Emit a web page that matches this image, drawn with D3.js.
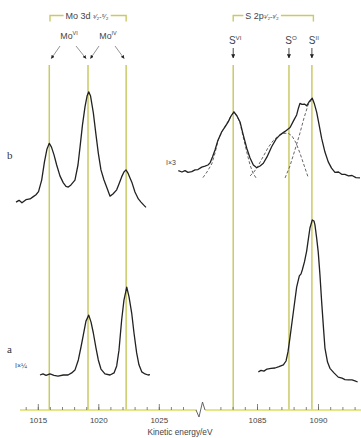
<!DOCTYPE html>
<html><head><meta charset="utf-8">
<script src="https://cdn.jsdelivr.net/npm/d3@7"></script>
<style>body{margin:0;background:#fff}svg{display:block}</style>
</head><body>
<svg id="chart" width="361" height="438"></svg>
<script>
// Mo 3d spectra, [kinetic energy (eV), intensity (arb. units)]
const moB = [[1013.20,59.4],[1013.45,59.9],[1013.69,59.2],[1014.02,60.1],[1014.36,60.3],[1014.60,60.9],[1014.85,61.5],[1015.06,62.4],[1015.32,65.7],[1015.55,70.9],[1015.76,74.6],[1015.95,76.2],[1016.13,75.1],[1016.34,72.9],[1016.56,70.0],[1016.83,66.9],[1017.11,64.9],[1017.33,63.9],[1017.52,63.7],[1017.74,64.3],[1018.07,65.7],[1018.32,70.0],[1018.49,75.1],[1018.69,81.4],[1018.90,86.6],[1019.07,89.7],[1019.21,90.9],[1019.36,89.7],[1019.59,84.9],[1019.81,78.6],[1020.00,73.4],[1020.22,68.6],[1020.47,65.7],[1020.72,63.4],[1020.97,61.1],[1021.21,61.7],[1021.52,62.9],[1021.71,64.6],[1021.93,66.6],[1022.12,68.0],[1022.29,68.6],[1022.45,67.7],[1022.62,66.3],[1022.79,64.9],[1023.03,62.3],[1023.31,60.3],[1023.53,59.4],[1023.74,58.6],[1023.94,57.9]];
const moA = [[1015.18,10.0],[1015.43,10.3],[1015.68,9.9],[1016.01,10.3],[1016.34,9.9],[1016.67,9.7],[1017.11,10.0],[1017.50,10.0],[1017.80,10.6],[1018.07,11.4],[1018.35,14.3],[1018.57,18.0],[1018.76,21.4],[1018.98,25.4],[1019.21,27.1],[1019.40,25.1],[1019.59,22.0],[1019.81,17.7],[1020.00,14.3],[1020.22,11.7],[1020.55,10.3],[1020.97,10.0],[1021.30,10.6],[1021.52,12.6],[1021.71,17.1],[1021.93,25.7],[1022.12,31.4],[1022.35,35.1],[1022.54,32.3],[1022.76,27.7],[1022.95,22.0],[1023.17,16.3],[1023.36,12.9],[1023.59,10.9],[1023.86,10.3],[1024.11,10.0],[1024.27,10.1]];

// S 2p spectra
const sB = [[1078.55,68.4],[1078.85,68.0],[1079.10,68.4],[1079.34,67.9],[1079.65,68.1],[1079.92,68.6],[1080.16,68.7],[1080.47,69.4],[1080.74,69.7],[1080.98,70.0],[1081.15,70.6],[1081.35,72.3],[1081.56,74.3],[1081.80,77.1],[1082.11,79.5],[1082.38,80.9],[1082.65,82.4],[1082.87,84.0],[1083.11,85.2],[1083.36,84.0],[1083.61,82.3],[1083.85,78.9],[1084.16,74.8],[1084.43,72.0],[1084.70,70.0],[1084.98,69.2],[1085.25,69.7],[1085.52,70.5],[1085.82,72.3],[1086.20,75.2],[1086.56,77.4],[1086.89,78.6],[1087.30,79.6],[1087.71,80.7],[1087.99,82.6],[1088.25,84.3],[1088.40,86.3],[1088.52,87.6],[1088.69,87.3],[1088.89,87.4],[1089.07,86.9],[1089.26,88.0],[1089.53,89.1],[1089.71,87.4],[1089.89,85.1],[1090.08,81.7],[1090.30,77.6],[1090.57,73.7],[1090.84,70.9],[1091.11,69.1],[1091.39,67.9],[1091.68,68.0],[1091.97,67.3],[1092.21,67.3],[1092.50,66.9],[1092.79,67.0],[1093.11,66.4],[1093.44,66.3]];
const sA = [[1085.11,10.9],[1085.33,11.3],[1085.57,11.1],[1085.82,11.7],[1086.15,11.9],[1086.48,12.0],[1086.80,12.4],[1087.16,12.9],[1087.38,14.0],[1087.54,16.6],[1087.70,20.6],[1087.98,28.0],[1088.25,35.1],[1088.47,38.3],[1088.61,38.9],[1088.71,40.0],[1088.89,42.3],[1089.07,45.4],[1089.22,49.1],[1089.34,52.0],[1089.53,54.3],[1089.67,54.0],[1089.75,52.9],[1089.89,49.1],[1090.02,45.1],[1090.16,38.6],[1090.30,30.9],[1090.45,23.4],[1090.57,17.7],[1090.78,13.7],[1090.98,11.9],[1091.31,10.6],[1091.66,9.4],[1091.97,9.1],[1092.21,8.7],[1092.48,8.6],[1092.79,8.6],[1093.03,8.3],[1093.25,8.0]];

// fitted components of spectrum b (S 2p)
const fitSVI = [[1080.57,66.4],[1080.90,68.0],[1081.29,70.3],[1081.56,73.4],[1081.80,76.9],[1082.11,79.4],[1082.38,81.1],[1082.65,82.6],[1082.87,84.0],[1083.11,85.1],[1083.36,84.0],[1083.61,82.0],[1083.85,78.3],[1084.16,73.7],[1084.43,70.0],[1084.67,67.7],[1084.98,66.0]];
const fitS0 = [[1084.43,66.9],[1084.75,68.0],[1085.08,69.7],[1085.49,72.3],[1085.90,74.9],[1086.31,76.9],[1086.72,78.3],[1087.13,79.0],[1087.54,79.1],[1087.87,78.3],[1088.20,76.3],[1088.52,73.4],[1088.85,70.0],[1089.18,66.6]];
const fitSII = [[1087.30,66.3],[1087.70,69.7],[1088.11,74.3],[1088.52,79.1],[1088.85,83.4],[1089.18,87.1],[1089.53,89.1]];

// reference positions of the chemical states
const moLines = [1015.95, 1019.15, 1022.30];
const sLines = [1083.05, 1087.62, 1089.50];

// axis ticks
const leftMinor = [1014,1015,1016,1017,1018,1019,1020,1021,1022,1023,1024,1025,1026,1027];
const leftMajor = [1015,1020,1025];
const rightMinor = [1082,1083,1084,1085,1086,1087,1088,1089,1090,1091,1092,1093];
const rightMajor = [1085,1090];

const OLIVE = "#c9ca66";
const INK = "#222";
const FONT = "'Liberation Sans', Arial, sans-serif";

const svg = d3.select("#chart");

const xL = d3.scaleLinear().domain([1015, 1025]).range([37.8, 158.8]);
const xR = d3.scaleLinear().domain([1085, 1090]).range([257, 318]);
const y = d3.scaleLinear().domain([0, 100]).range([410, 60]);
const axisY = y(0);

// vertical state lines
const gLines = svg.append("g").attr("stroke", OLIVE).attr("stroke-width", 1.5);
moLines.forEach(e => gLines.append("line").attr("x1", xL(e)).attr("x2", xL(e)).attr("y1", 65).attr("y2", axisY));
sLines.forEach(e => gLines.append("line").attr("x1", xR(e)).attr("x2", xR(e)).attr("y1", 65).attr("y2", axisY));

// spectra
const lineL = d3.line().x(d => xL(d[0])).y(d => y(d[1]));
const lineR = d3.line().x(d => xR(d[0])).y(d => y(d[1]));
const gFit = svg.append("g").attr("fill", "none").attr("stroke", "#555").attr("stroke-width", 0.9).attr("stroke-dasharray", "3,2");
[fitSVI, fitS0, fitSII].forEach(f => gFit.append("path").attr("d", lineR(f)));
const gSpec = svg.append("g").attr("fill", "none").attr("stroke", INK).attr("stroke-width", 1.3).attr("stroke-linejoin", "round");
gSpec.append("path").attr("d", lineL(moB));
gSpec.append("path").attr("d", lineL(moA));
gSpec.append("path").attr("d", lineR(sB));
gSpec.append("path").attr("d", lineR(sA));

// energy axis with a break between the two regions
svg.append("line").attr("x1", 20).attr("x2", 197).attr("y1", axisY).attr("y2", axisY).attr("stroke", "#dede62").attr("stroke-width", 1.6);
svg.append("line").attr("x1", 205).attr("x2", 361).attr("y1", axisY).attr("y2", axisY).attr("stroke", "#dede62").attr("stroke-width", 1.6);
svg.append("path").attr("d", `M196,${axisY} L199,${axisY+7} L202.5,${axisY-8} L205,${axisY}`)
  .attr("fill", "none").attr("stroke", "#555").attr("stroke-width", 0.9);

function drawAxis(scale, minor, major) {
  const gMin = svg.append("g").attr("transform", `translate(0,${axisY})`)
    .call(d3.axisBottom(scale).tickValues(minor).tickSizeInner(-3).tickSizeOuter(0).tickFormat(""));
  const gMaj = svg.append("g").attr("transform", `translate(0,${axisY})`)
    .call(d3.axisBottom(scale).tickValues(major).tickSizeInner(-6).tickSizeOuter(0).tickPadding(7).tickFormat(d3.format("d")));
  [gMin, gMaj].forEach(g => {
    g.select(".domain").remove();
    g.selectAll(".tick line").attr("stroke", "#666").attr("stroke-width", 0.8);
    g.selectAll(".tick text").attr("fill", "#444").attr("font-family", FONT).attr("font-size", 8);
  });
}
drawAxis(xL, leftMinor, leftMajor);
drawAxis(xR, rightMinor, rightMajor);

svg.append("text").attr("x", 180).attr("y", 435).attr("text-anchor", "middle")
  .attr("font-family", FONT).attr("font-size", 8.3).attr("fill", "#444").text("Kinetic energy/eV");

// curve labels
const serif = "'Liberation Serif', 'Times New Roman', serif";
svg.append("text").attr("x", 7).attr("y", 159).attr("font-family", serif).attr("font-size", 11).attr("fill", "#333").text("b");
svg.append("text").attr("x", 7).attr("y", 353).attr("font-family", serif).attr("font-size", 11).attr("fill", "#333").text("a");
svg.append("text").attr("x", 15).attr("y", 368).attr("font-family", FONT).attr("font-size", 7).attr("fill", "#444").text("I×¼");
svg.append("text").attr("x", 166).attr("y", 165).attr("font-family", FONT).attr("font-size", 7).attr("fill", "#444").text("I×3");

// brackets with titles
function bracket(x0, x1, cx, label, sub) {
  const g = svg.append("g");
  g.append("path").attr("d", `M${x0},21.5 V15.5 H${x1} V21.5`).attr("fill", "none").attr("stroke", OLIVE).attr("stroke-width", 1.4);
  const bg = g.append("rect").attr("fill", "#fff");
  const t = g.append("text").attr("x", cx).attr("y", 18.8).attr("text-anchor", "middle")
    .attr("font-family", FONT).attr("font-size", 9).attr("fill", "#444");
  t.append("tspan").text(label);
  t.append("tspan").attr("font-size", 7).text(sub);
  const bb = t.node().getBBox();
  bg.attr("x", bb.x - 2).attr("y", bb.y).attr("width", bb.width + 4).attr("height", bb.height);
}
bracket(xL(moLines[0]) + 0.7, xL(moLines[2]), 87, "Mo 3d ", "³⁄₂-⁵⁄₂");
bracket(xR(sLines[0]), xR(sLines[2]) + 1.5, 262, "S 2p", "¹⁄₂-³⁄₂");

// state labels
function stateLabel(x, yb, base, sup, size) {
  const t = svg.append("text").attr("x", x).attr("y", yb).attr("text-anchor", "middle")
    .attr("font-family", FONT).attr("font-size", size).attr("fill", "#444");
  t.append("tspan").text(base);
  t.append("tspan").attr("font-size", size * 0.62).attr("dy", -size * 0.4).text(sup);
}
stateLabel(69, 39, "Mo", "VI", 8.8);
stateLabel(108, 39, "Mo", "IV", 8.8);
stateLabel(xR(sLines[0]) + 2, 44, "S", "VI", 10);
stateLabel(xR(sLines[1]) + 2, 44, "S", "O", 10);
stateLabel(xR(sLines[2]) + 2, 44, "S", "II", 10);

// arrows
svg.append("defs").append("marker").attr("id", "head").attr("viewBox", "0 0 10 10")
  .attr("refX", 9).attr("refY", 5).attr("markerWidth", 4.5).attr("markerHeight", 4.5).attr("orient", "auto")
  .append("path").attr("d", "M0,0 L10,5 L0,10 z").attr("fill", "#222");
const arrows = [
  [60, 46, xL(moLines[0]) + 2, 58.5],
  [76, 46, xL(moLines[1]) - 2, 58.5],
  [99, 46, xL(moLines[1]) + 2.5, 58.5],
  [115, 46, xL(moLines[2]) - 2, 58.5]
];
arrows.forEach(a => svg.append("line").attr("x1", a[0]).attr("y1", a[1]).attr("x2", a[2]).attr("y2", a[3])
  .attr("stroke", "#777").attr("stroke-width", 0.8).attr("marker-end", "url(#head)"));
sLines.forEach(e => svg.append("line").attr("x1", xR(e)).attr("x2", xR(e)).attr("y1", 48).attr("y2", 58)
  .attr("stroke", "#333").attr("stroke-width", 0.9).attr("marker-end", "url(#head)"));
</script>
</body></html>
